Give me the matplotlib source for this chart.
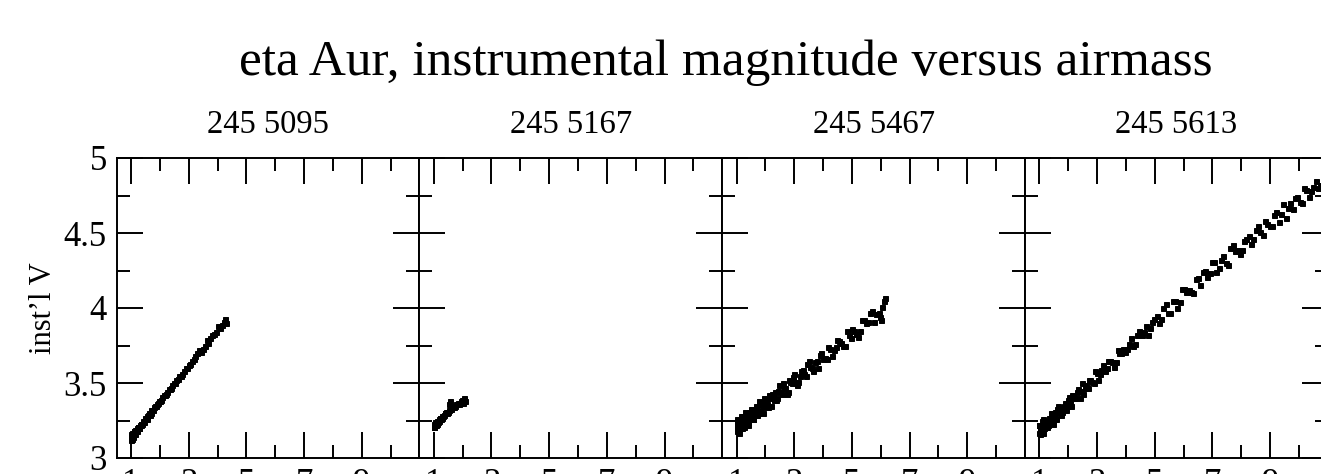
import matplotlib
matplotlib.use("Agg")
import matplotlib.pyplot as plt
from matplotlib.ticker import MultipleLocator, FixedLocator

# ── Observations: airmass vs instrumental V per night (JD 245xxxx) ─────────
nights = ["245 5095", "245 5167", "245 5467", "245 5613"]

am_5095 = [1.00, 1.00, 1.01, 1.02, 1.03, 1.05, 1.06, 1.08, 1.10, 1.12, 1.15, 1.18,
           1.20, 1.23, 1.27, 1.30, 1.34, 1.38, 1.42, 1.47, 1.52, 1.57, 1.62, 1.68,
           1.74, 1.80, 1.87, 1.94, 2.01, 2.09, 2.17, 2.25, 2.34, 2.43, 2.52, 2.62,
           2.72, 2.83, 2.94, 3.05, 3.17, 3.29, 3.42, 3.55, 3.68, 3.82, 3.96, 4.10,
           4.22, 4.30,
           1.01, 1.04, 1.07, 1.11, 1.14, 1.17, 1.22, 1.25, 1.29, 1.33, 1.36, 1.40,
           1.45, 1.50, 1.55, 1.60, 1.65, 1.71, 1.77, 1.84, 1.91, 1.98, 2.05, 2.13,
           2.21, 2.30, 2.39, 2.48, 2.57, 2.67, 2.78, 2.89, 3.00, 3.11, 3.23, 3.36,
           3.49, 3.62, 3.75, 3.89, 4.03, 4.16, 4.26]
mag_5095 = [3.12, 3.16, 3.14, 3.15, 3.13, 3.16, 3.15, 3.17, 3.16, 3.18, 3.19, 3.18,
            3.20, 3.21, 3.20, 3.22, 3.23, 3.23, 3.25, 3.26, 3.27, 3.28, 3.30, 3.30,
            3.32, 3.34, 3.35, 3.37, 3.38, 3.41, 3.42, 3.44, 3.46, 3.49, 3.50, 3.53,
            3.55, 3.58, 3.60, 3.63, 3.66, 3.70, 3.71, 3.75, 3.77, 3.82, 3.84, 3.87,
            3.91, 3.90,
            3.13, 3.17, 3.14, 3.18, 3.16, 3.19, 3.18, 3.21, 3.20, 3.23, 3.22, 3.24,
            3.24, 3.27, 3.26, 3.29, 3.29, 3.32, 3.32, 3.35, 3.36, 3.38, 3.39, 3.42,
            3.43, 3.46, 3.47, 3.50, 3.52, 3.55, 3.56, 3.60, 3.62, 3.65, 3.68, 3.72,
            3.73, 3.79, 3.80, 3.83, 3.88, 3.89, 3.93]

am_5167 = [1.00, 1.01, 1.03, 1.05, 1.08, 1.10, 1.13, 1.17, 1.21, 1.25, 1.30, 1.35,
           1.40, 1.46, 1.52, 1.55, 1.60, 1.67, 1.74, 1.81, 1.88, 1.95, 2.01, 2.06,
           2.08,
           1.02, 1.06, 1.11, 1.15, 1.19, 1.23, 1.28, 1.33, 1.38, 1.43, 1.49, 1.53,
           1.57, 1.63, 1.70, 1.77, 1.84, 1.91, 1.98, 2.04]
mag_5167 = [3.21, 3.23, 3.22, 3.24, 3.23, 3.25, 3.24, 3.26, 3.27, 3.26, 3.28, 3.29,
            3.30, 3.30, 3.32, 3.38, 3.33, 3.34, 3.35, 3.36, 3.36, 3.38, 3.37, 3.39,
            3.38,
            3.21, 3.22, 3.23, 3.25, 3.25, 3.27, 3.27, 3.28, 3.30, 3.31, 3.31, 3.36,
            3.33, 3.35, 3.34, 3.36, 3.37, 3.37, 3.39, 3.40]

am_5467 = [1.00, 1.00, 1.00, 1.02, 1.03, 1.05, 1.06, 1.08, 1.10, 1.12, 1.14, 1.17,
           1.20, 1.22, 1.25, 1.28, 1.31, 1.35, 1.38, 1.42, 1.46, 1.50, 1.54, 1.58,
           1.63, 1.68, 1.73, 1.78, 1.84, 1.90, 1.96, 2.02, 2.08, 2.15, 2.22, 2.29,
           2.36, 2.44, 2.52, 2.60, 2.68, 2.77, 2.86, 2.95, 3.04, 3.14, 3.24, 3.34,
           3.44, 3.55, 3.66, 3.77, 3.88, 4.00, 4.12, 4.24, 4.36, 4.49, 4.62, 4.75,
           4.88, 5.01, 5.15, 5.29, 5.43, 5.57, 5.71, 5.85, 5.98, 6.10,
           1.01, 1.04, 1.07, 1.09, 1.11, 1.13, 1.16, 1.19, 1.21, 1.24, 1.27, 1.30,
           1.33, 1.37, 1.40, 1.44, 1.48, 1.52, 1.56, 1.61, 1.66, 1.71, 1.76, 1.81,
           1.87, 1.93, 1.99, 2.05, 2.12, 2.19, 2.26, 2.33, 2.40, 2.48, 2.56, 2.64,
           2.73, 2.82, 2.91, 3.00, 3.09, 3.19, 3.29, 3.39, 3.50, 3.61, 3.72, 3.83,
           3.94, 4.06, 4.18, 4.30, 4.43, 4.56, 4.69, 4.82, 4.95, 5.08, 5.22, 5.36,
           5.50, 5.64, 5.78, 5.92, 6.05, 6.14, 6.00]
mag_5467 = [3.18, 3.23, 3.20, 3.25, 3.22, 3.18, 3.23, 3.25, 3.21, 3.20, 3.25, 3.23,
            3.28, 3.24, 3.21, 3.26, 3.29, 3.24, 3.24, 3.30, 3.27, 3.33, 3.29, 3.26,
            3.32, 3.35, 3.30, 3.30, 3.36, 3.34, 3.40, 3.37, 3.34, 3.40, 3.43, 3.39,
            3.39, 3.45, 3.44, 3.50, 3.47, 3.44, 3.51, 3.54, 3.51, 3.51, 3.58, 3.56,
            3.63, 3.61, 3.58, 3.65, 3.69, 3.66, 3.66, 3.73, 3.72, 3.79, 3.77, 3.75,
            3.82, 3.86, 3.83, 3.85, 3.92, 3.91, 3.98, 3.96, 3.94, 4.05,
            3.26, 3.20, 3.23, 3.17, 3.26, 3.22, 3.28, 3.20, 3.24, 3.27, 3.22, 3.31,
            3.24, 3.28, 3.22, 3.31, 3.27, 3.33, 3.26, 3.31, 3.33, 3.29, 3.38, 3.32,
            3.36, 3.30, 3.39, 3.36, 3.42, 3.35, 3.41, 3.44, 3.40, 3.49, 3.43, 3.47,
            3.43, 3.52, 3.50, 3.56, 3.49, 3.55, 3.59, 3.55, 3.65, 3.60, 3.64, 3.60,
            3.70, 3.67, 3.74, 3.68, 3.74, 3.78, 3.75, 3.85, 3.80, 3.85, 3.81, 3.92,
            3.90, 3.97, 3.91, 3.97, 4.01, 4.07, 3.92]

am_5613 = [1.00, 1.00, 1.01, 1.02, 1.04, 1.05, 1.07, 1.09, 1.11, 1.13, 1.16, 1.19,
           1.22, 1.25, 1.29, 1.33, 1.37, 1.41, 1.46, 1.51, 1.56, 1.62, 1.68, 1.74,
           1.80, 1.87, 1.94, 2.01, 2.09, 2.17, 2.25, 2.34, 2.43, 2.52, 2.62, 2.72,
           2.82, 2.93, 3.04, 3.15, 3.27, 3.39, 3.51, 3.64, 3.77, 3.90, 4.04, 4.18,
           4.32, 4.46, 4.61, 4.76, 4.91, 5.06, 5.22, 5.38, 5.54, 5.70, 5.86, 6.02,
           6.18, 6.34, 6.50, 6.66, 6.82, 6.98, 7.14, 7.30, 7.46, 7.62, 7.78, 7.94,
           8.10, 8.26, 8.42, 8.58, 8.74, 8.90, 9.06, 9.22, 9.38, 9.54, 9.70, 9.86,
           10.02, 10.18, 10.34, 10.50, 10.66, 10.82,
           1.00, 1.03, 1.06, 1.10, 1.14, 1.18, 1.23, 1.27, 1.31, 1.35, 1.39, 1.44,
           1.49, 1.54, 1.59, 1.65, 1.71, 1.77, 1.84, 1.91, 1.98, 2.05, 2.13, 2.21,
           2.30, 2.39, 2.48, 2.57, 2.67, 2.77, 2.88, 2.99, 3.10, 3.21, 3.33, 3.45,
           3.58, 3.71, 3.84, 3.97, 4.11, 4.25, 4.39, 4.54, 4.69, 4.84, 4.99, 5.14,
           5.30, 5.46, 5.62, 5.78, 5.94, 6.10, 6.26, 6.42, 6.58, 6.74, 6.90, 7.06,
           7.22, 7.38, 7.54, 7.70, 7.86, 8.02, 8.18, 8.34, 8.50, 8.66, 8.82, 8.98,
           9.14, 9.30, 9.46, 9.62, 9.78, 9.94, 10.10, 10.26, 10.42, 10.58, 10.74]
mag_5613 = [3.17, 3.22, 3.19, 3.16, 3.21, 3.22, 3.19, 3.25, 3.17, 3.22, 3.20, 3.25,
            3.23, 3.21, 3.25, 3.27, 3.25, 3.30, 3.23, 3.29, 3.27, 3.33, 3.31, 3.29,
            3.34, 3.37, 3.35, 3.41, 3.35, 3.41, 3.40, 3.46, 3.45, 3.43, 3.49, 3.52,
            3.51, 3.58, 3.52, 3.59, 3.58, 3.65, 3.64, 3.64, 3.70, 3.73, 3.73, 3.80,
            3.76, 3.85, 3.84, 3.82, 3.91, 3.95, 3.93, 4.03, 3.97, 4.05, 4.04, 4.13,
            4.12, 4.10, 4.20, 4.24, 4.21, 4.31, 4.24, 4.32, 4.30, 4.40, 4.38, 4.36,
            4.45, 4.48, 4.46, 4.55, 4.49, 4.56, 4.55, 4.64, 4.63, 4.60, 4.70, 4.73,
            4.71, 4.80, 4.74, 4.81, 4.80, 4.89,
            3.22, 3.19, 3.22, 3.17, 3.26, 3.22, 3.21, 3.25, 3.22, 3.27, 3.25, 3.30,
            3.27, 3.31, 3.26, 3.35, 3.32, 3.31, 3.35, 3.32, 3.39, 3.37, 3.42, 3.40,
            3.44, 3.40, 3.50, 3.47, 3.47, 3.52, 3.50, 3.57, 3.56, 3.62, 3.60, 3.65,
            3.61, 3.72, 3.70, 3.71, 3.76, 3.75, 3.82, 3.82, 3.88, 3.87, 3.93, 3.90,
            4.00, 3.97, 4.05, 4.00, 4.13, 4.11, 4.11, 4.19, 4.15, 4.25, 4.23, 4.31,
            4.27, 4.35, 4.29, 4.42, 4.39, 4.39, 4.46, 4.43, 4.52, 4.51, 4.58, 4.55,
            4.62, 4.57, 4.69, 4.67, 4.66, 4.74, 4.70, 4.79, 4.78, 4.85, 4.82]

airmass = [am_5095, am_5167, am_5467, am_5613]
mags = [mag_5095, mag_5167, mag_5467, mag_5613]

x_major = [1, 3, 5, 7, 9]
y_major = [3, 3.5, 4, 4.5, 5]

# ── Figure / layout (pixels) ──────────────────────────────────────────────
W, H = 1321, 474
plt.rcParams["font.family"] = ["Liberation Serif", "DejaVu Serif"]
fig = plt.figure(figsize=(W / 100, H / 100), dpi=100)

left0, pw = 116.6, 302.8
bot, top = 458, 158
lw = 1.4

for i, night in enumerate(nights):
    ax = fig.add_axes([(left0 + i * pw) / W, (H - bot) / H, pw / W, (bot - top) / H])
    ax.plot(airmass[i], mags[i], ls="none", marker="s", ms=3.6, color="black",
            mec="black", mew=0.7)
    ax.set_xlim(0.5, 11)
    ax.set_ylim(3, 5)
    ax.xaxis.set_major_locator(FixedLocator(x_major))
    ax.xaxis.set_minor_locator(MultipleLocator(1))
    ax.yaxis.set_major_locator(FixedLocator(y_major))
    ax.yaxis.set_minor_locator(MultipleLocator(0.25))
    ax.tick_params(which="both", direction="in", top=True, right=True, width=lw)
    ax.tick_params(which="major", length=18.5)
    ax.tick_params(which="minor", length=9.5)
    ax.tick_params(axis="both", labelsize=25)
    ax.tick_params(axis="x", pad=7)
    ax.set_xticklabels([str(v) for v in x_major])
    if i == 0:
        ax.set_yticklabels(["3", "3.5", "4", "4.5", "5"])
        ax.tick_params(axis="y", pad=7)
        ax.set_ylabel("inst\u2019l V", fontsize=22, labelpad=4)
    else:
        ax.set_yticklabels([])
    for s in ax.spines.values():
        s.set_linewidth(lw)
    fig.text((left0 + (i + 0.5) * pw) / W, 1 - 133 / H, night, ha="center",
             va="baseline", fontsize=23.5)

fig.text(726 / W, 1 - 75 / H, "eta Aur, instrumental magnitude versus airmass",
         ha="center", va="baseline", fontsize=37)

fig.savefig("out.png", dpi=100)
